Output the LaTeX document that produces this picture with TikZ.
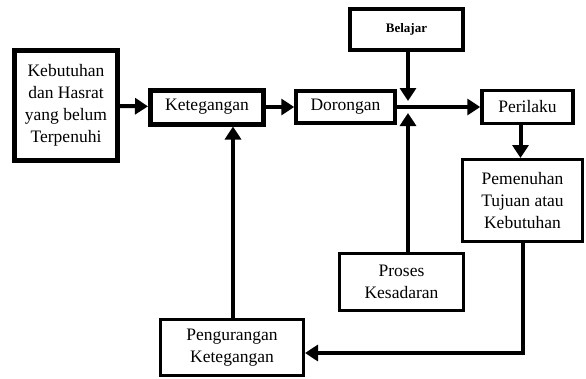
\documentclass[tikz,border=0pt]{standalone}
\usepackage{fontspec}
\setmainfont{Liberation Serif}
\usetikzlibrary{arrows.meta}
\begin{document}
\begin{tikzpicture}[x=1pt,y=-1pt,
  box/.style={draw,line width=3.5pt,align=center,inner sep=0pt,font=\fontsize{17.5}{22}\selectfont},
  heavy/.style={box,line width=5pt},
  conn/.style={line width=4pt,-{Triangle[length=13pt,width=16pt]}},
  plain/.style={line width=4pt}]
\useasboundingbox (0,0) rectangle (586,378);
\node[heavy,minimum width=103,minimum height=110] (K) at (66,105.5) {Kebutuhan\\dan Hasrat\\yang belum\\Terpenuhi};
\node[heavy,minimum width=113,minimum height=34] (T) at (207,107) {Ketegangan};
\node[box,minimum width=99,minimum height=32] (D) at (345.5,107) {Dorongan};
\node[box,minimum width=113,minimum height=41,font=\fontsize{13}{15}\selectfont\bfseries] (B) at (406.5,29.5) {Belajar};
\node[box,minimum width=91,minimum height=33] (P) at (527.5,107) {Perilaku};
\node[box,line width=3pt,minimum width=120,minimum height=82] (M) at (522.5,200.5) {Pemenuhan\\Tujuan atau\\Kebutuhan};
\node[box,line width=3pt,minimum width=124,minimum height=57] (S) at (401.5,282) {Proses\\Kesadaran};
\node[box,line width=3pt,minimum width=143,minimum height=56] (R) at (232,347.5) {Pengurangan\\Ketegangan};
\coordinate (J) at (408,107);
\coordinate (C) at (523,353);
\draw[conn] (K) -- (T);
\draw[conn] (T) -- (D);
\draw[plain] (D.east) -- (J);
\draw[conn] (J) -- (P);
\draw[conn] (B.south -| J) -- ([yshift=6pt]J);
\draw[conn] (S.north -| J) -- ([yshift=-6pt]J);
\draw[conn] ([xshift=-2pt]P.south -| M.north) -- ([xshift=-2pt]M.north);
\draw[conn] (M.south -| C) -- (C) -- (R.east |- C);
\draw[conn] (R.north -| 233,0) -- (T.south -| 233,0);
\end{tikzpicture}
\end{document}
